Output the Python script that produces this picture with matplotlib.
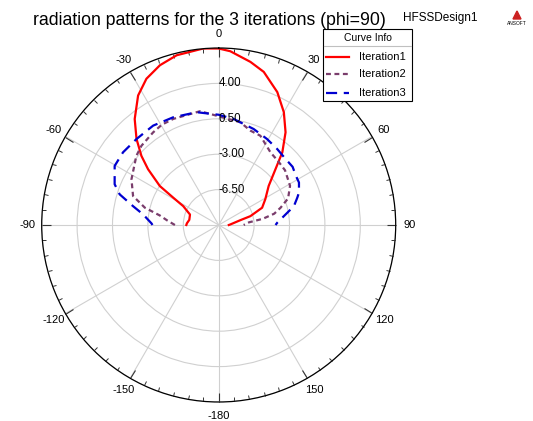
import numpy as np
import matplotlib
matplotlib.use("Agg")
import matplotlib.pyplot as plt
from matplotlib.lines import Line2D
from matplotlib.patches import Rectangle, Polygon

plt.rcParams['font.family'] = ['Liberation Sans', 'DejaVu Sans']

# theta (deg) / gain (dB), phi=90 cut
theta1 = [-90, -87, -80, -70, -62, -59, -56.5, -51.7, -48.2, -43.7, -38.4, -31.9, -26.3,
          -20.2, -13.9, -5, 0, 3.8, 11, 16.4, 23.8, 30, 35.8, 41.2, 45.5, 52, 61, 68.3,
          74.4, 77.4, 87.5, 90]
db1 = [-6.8, -6.85, -7.05, -6.98, -6.03, -4.76, -3.02, -1.1, 0.25, 1.76, 3.37, 5.08, 6.13,
       6.83, 7.29, 7.52, 7.45, 7.22, 6.43, 5.78, 4.36, 2.88, 1.3, -0.45, -2.13, -3.73, -4.73,
       -5.38, -6.75, -7.8, -8.86, -9.0]

theta2 = [-90, -85, -80.8, -76.8, -71.3, -62.3, -50, -44.3, -35.3, -29.5, -23.2, -9.3, 0,
          11.9, 18.6, 25, 35.5, 44, 50.5, 61.2, 69, 74.4, 78.5, 82, 85, 90]
db2 = [-5.67, -4.9, -4.1, -2.5, -1.06, -0.26, 0.63, 0.94, 1.22, 1.4, 1.41, 1.4, 0.75,
       0.38, -0.16, -0.26, -1.18, -1.4, -1.5, -1.95, -2.65, -3.65, -4.4, -5.6, -7.0, -7.53]

theta3 = [-90, -88.7, -82, -77.6, -72.8, -68.6, -60.4, -52.8, -43.7, -33.4, -22.9, -11, 0,
          8, 15.9, 20, 29.4, 37.6, 44.7, 51.8, 57.5, 62.1, 68, 70.8, 75.9, 78.8, 87.8, 90]
db3 = [-3.45, -3.36, -2.45, -1.33, 0.25, 1.05, 1.83, 1.88, 1.76, 1.77, 1.56, 1.36, 0.9,
       0.59, 0.21, 0.1, -0.25, -0.52, -0.7, -0.7, -0.95, -1.02, -1.44, -1.77, -2.33, -2.92,
       -4.21, -4.38]

names = ['Iteration1', 'Iteration2', 'Iteration3']
r_ticks = [-6.5, -3.0, 0.5, 4.0]
ang_ticks = np.arange(0, 360, 30)
ang_labels = ['0', '30', '60', '90', '120', '150', '-180', '-150', '-120', '-90', '-60', '-30']

colors = ['#ff0000', '#7a3d6c', '#0000d0']
styles = [dict(ls='-'), dict(dashes=(2.2, 1.6)), dict(dashes=(5, 3))]

W, H = 533, 421
fig = plt.figure(figsize=(W / 100, H / 100), dpi=100)
ax = fig.add_axes([41.7 / W, 19 / H, 354 / W, 354 / H], projection='polar')
ax.set_theta_zero_location('N')
ax.set_theta_direction(-1)
ax.set_ylim(-10, 7.5)

for th, db, c, st in zip([theta1, theta2, theta3], [db1, db2, db3], colors, styles):
    ax.plot(np.deg2rad(th), db, color=c, lw=1.6, **st)

ax.set_xticks(np.deg2rad(ang_ticks))
ax.set_xticklabels(ang_labels, fontsize=8)
ax.set_xticks(np.deg2rad(np.arange(0, 360, 5)), minor=True)
ax.xaxis.set_tick_params(which='both', bottom=False, top=True)
ax.tick_params(axis='x', which='major', direction='in', length=6.5, width=0.8, pad=3,
               color='#333333')
ax.tick_params(axis='x', which='minor', direction='in', length=3, width=0.7, color='#333333')
ax.set_yticks(r_ticks + [7.5])
ax.set_yticklabels([])
ax.grid(True, color='#d0d0d0', lw=0.8)
ax.spines['polar'].set_linewidth(0.9)
for r in r_ticks:
    ax.text(0, r, f'{r:.2f}', fontsize=8.3, ha='left', va='center')

# title and design name
fig.text(209.5 / W, 1 - 25 / H, 'radiation patterns for the 3 iterations (phi=90)',
         fontsize=12.7, ha='center', va='baseline')
fig.text(403 / W, 1 - 20.7 / H, 'HFSSDesign1', fontsize=8.5, ha='left', va='baseline')

# little logo
fig.patches.append(Polygon([(513 / W, 1 - 19 / H), (521 / W, 1 - 19 / H), (517 / W, 1 - 11 / H)],
                           closed=True, color='#cc2222', transform=fig.transFigure))
fig.text(517 / W, 1 - 23.5 / H, 'ANSOFT', fontsize=3.5, ha='center', va='center')

# curve info box
fig.patches.append(Rectangle((323.3 / W, 1 - 101 / H), 88.4 / W, 72 / H, facecolor='white',
                             edgecolor='black', lw=0.8, transform=fig.transFigure, zorder=3))
fig.lines.append(Line2D([324 / W, 411 / W], [1 - 45.7 / H] * 2, color='#c0c0c0', lw=0.8,
                        transform=fig.transFigure, zorder=4))
fig.text(367.5 / W, 1 - 37.7 / H, 'Curve Info', fontsize=7.5, ha='center', va='center', zorder=4)
for i, (name, c, st) in enumerate(zip(names, colors, styles)):
    y = 1 - [56.7, 74.3, 92.7][i] / H
    fig.lines.append(Line2D([326 / W, 349 / W], [y, y], color=c, lw=1.6, transform=fig.transFigure,
                            zorder=4, **st))
    fig.text(359 / W, y, name, fontsize=8, ha='left', va='center', zorder=4)

fig.savefig('out.png', dpi=100)
